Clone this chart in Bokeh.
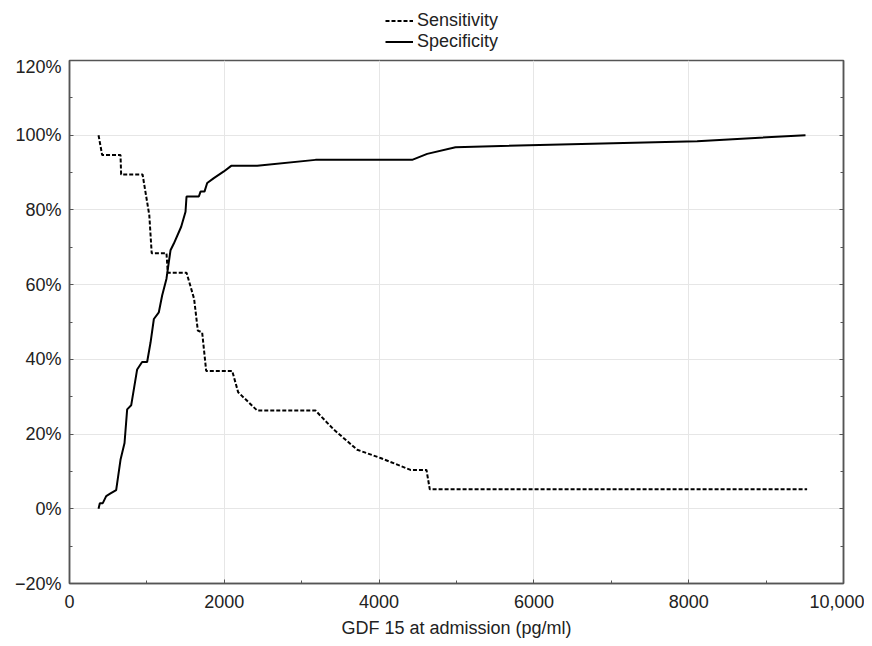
from bokeh.plotting import figure
from bokeh.layouts import column
from bokeh.models import (Legend, LegendItem, FixedTicker, LinearAxis, Range1d)
from bokeh.embed import file_html
from bokeh.resources import INLINE

# Data (x: GDF 15 pg/ml, y: percent)
sens_x = [375, 422, 659, 667, 944, 1031, 1062, 1253, 1270, 1512, 1585, 1610, 1658,
          1714, 1766, 2102, 2179, 2425, 3178, 3415, 3717, 4018, 4406, 4612, 4655, 9530]
sens_y = [100, 94.7, 94.7, 89.5, 89.5, 78.6, 68.4, 68.4, 63.2, 63.2, 58.0, 56.2, 47.7,
          47.2, 36.9, 36.9, 31.2, 26.3, 26.3, 21.2, 15.8, 13.6, 10.4, 10.4, 5.2, 5.2]

spec_x = [375, 392, 430, 474, 530, 603, 659, 711, 745, 797, 874, 938, 1003, 1047, 1090,
          1154, 1197, 1253, 1305, 1348, 1443, 1499, 1512, 1671, 1693, 1744, 1779, 1865,
          1994, 2089, 2425, 3178, 4427, 4621, 4987, 8109, 9509]
spec_y = [0, 1.5, 1.5, 3.4, 4.1, 5.0, 13.1, 17.6, 26.6, 27.7, 37.3, 39.3, 39.3, 44.5, 50.8,
          52.6, 57.1, 61.6, 69.2, 71.0, 75.5, 79.5, 83.6, 83.6, 84.9, 84.9, 87.2, 88.5,
          90.3, 91.8, 91.8, 93.4, 93.4, 95.0, 96.8, 98.4, 100]

series_names = ["Sensitivity", "Specificity"]

x_ticks = [0, 2000, 4000, 6000, 8000, 10000]
x_labels = ["0", "2000", "4000", "6000", "8000", "10,000"]
y_ticks = [-20, 0, 20, 40, 60, 80, 100, 120]
y_labels = ["\u221220%", "0%", "20%", "40%", "60%", "80%", "100%", "120%"]

FONT = "Liberation Sans"
TXT = "#222222"
DASH = "4 2"

# ---- legend strip (separate figure above the chart) ----
lg = figure(width=864, height=56, output_backend="svg", toolbar_location=None,
            x_axis_type=None, y_axis_type=None,
            x_range=Range1d(-1, 0), y_range=Range1d(-1, 0),
            min_border_left=0, min_border_right=0, min_border_top=0, min_border_bottom=0)
lg.outline_line_color = None
lg.xgrid.visible = False
lg.ygrid.visible = False
# legend-key lines: same series data, lying outside this strip's visible range
d_sens = lg.line(sens_x, sens_y, line_color="black", line_width=2, line_dash=DASH)
d_spec = lg.line(spec_x, spec_y, line_color="black", line_width=2)
legend = Legend(items=[LegendItem(label=series_names[0], renderers=[d_sens]),
                       LegendItem(label=series_names[1], renderers=[d_spec])],
                location=(316, 4), orientation="vertical")
legend.padding = 0
legend.margin = 0
legend.spacing = 0
legend.border_line_color = None
legend.background_fill_alpha = 0
legend.label_text_font = FONT
legend.label_text_font_size = "18px"
legend.label_text_color = TXT
legend.label_height = 21
legend.glyph_height = 21
legend.glyph_width = 28
legend.label_standoff = 4
lg.add_layout(legend, "center")

# ---- main chart ----
p = figure(width=864, height=588, output_backend="svg", toolbar_location=None,
           x_range=Range1d(0, 10000), y_range=Range1d(-20, 120),
           min_border_left=69, min_border_right=21, min_border_top=4, min_border_bottom=61)
p.background_fill_color = "white"
p.outline_line_color = "#555555"
p.outline_line_width = 1.5

p.xgrid.ticker = FixedTicker(ticks=x_ticks)
p.ygrid.ticker = FixedTicker(ticks=y_ticks)
p.xgrid.grid_line_color = "#e6e6e6"
p.ygrid.grid_line_color = "#e6e6e6"

def style_axis(ax, ticks, minor, labels):
    ax.ticker = FixedTicker(ticks=ticks, minor_ticks=minor)
    ax.major_tick_in = 4
    ax.major_tick_out = 0
    ax.minor_tick_in = 3
    ax.minor_tick_out = 0
    ax.axis_line_color = "#555555"
    ax.axis_line_width = 1.5
    ax.major_tick_line_color = "#555555"
    ax.minor_tick_line_color = "#555555"
    ax.major_label_text_font = FONT
    ax.major_label_text_font_size = "18px"
    ax.major_label_text_color = TXT
    ax.major_label_overrides = dict(zip(ticks, labels))

x_minor = list(range(0, 10001, 1000))
y_minor = list(range(-20, 121, 10))

xa = p.xaxis[0]
style_axis(xa, x_ticks, x_minor, x_labels)
xa.major_label_standoff = 11
xa.axis_label = "GDF 15 at admission (pg/ml)"
xa.axis_label_text_font = FONT
xa.axis_label_text_font_size = "18px"
xa.axis_label_text_font_style = "normal"
xa.axis_label_text_color = TXT
xa.axis_label_standoff = 7

ya = p.yaxis[0]
style_axis(ya, y_ticks, y_minor, y_labels)
ya.major_label_standoff = 8

ra = LinearAxis()
style_axis(ra, y_ticks, y_minor, [""] * len(y_ticks))
ra.major_label_standoff = 0
p.add_layout(ra, "right")

p.line(sens_x, sens_y, line_color="black", line_width=2, line_dash=DASH)
p.line(spec_x, spec_y, line_color="black", line_width=2)

layout = column(lg, p, spacing=0)
open("out.html", "w").write(file_html(layout, INLINE))
